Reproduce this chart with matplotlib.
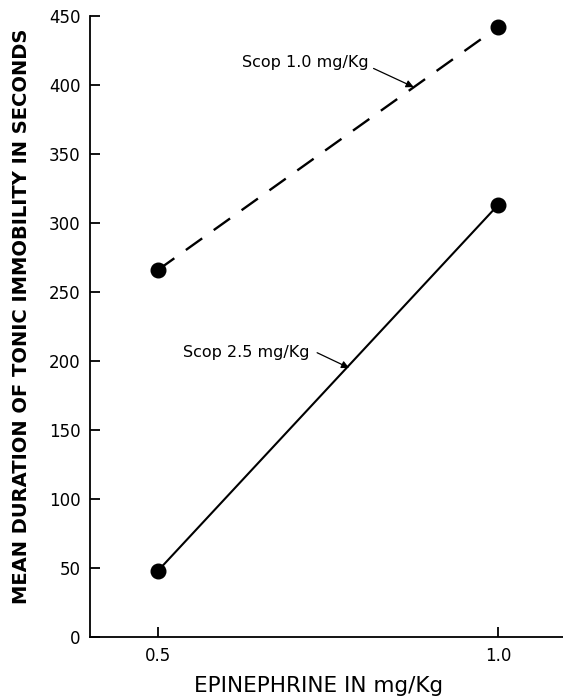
import matplotlib
matplotlib.use('Agg')
import matplotlib.pyplot as plt

# epinephrine doses (mg/Kg)
epi_dose = [0.5, 1.0]

# mean duration of tonic immobility (s)
scop_10 = [266, 442]
scop_25 = [48, 313]

x_ticks = [0.5, 1.0]
x_ticklabels = ['0.5', '1.0']
y_ticks = [0, 50, 100, 150, 200, 250, 300, 350, 400, 450]

plt.rcParams['font.family'] = 'DejaVu Sans'

fig = plt.figure(figsize=(5.63, 6.97), dpi=100)
ax = fig.add_axes([90 / 563, 60 / 697, 476 / 563, 621 / 697])

ax.plot(epi_dose, scop_10, color='black', lw=1.7, dashes=(8.5, 6),
        marker='o', markersize=10.5, markerfacecolor='black',
        markeredgecolor='black', clip_on=False)
ax.plot(epi_dose, scop_25, color='black', lw=1.5,
        marker='o', markersize=10.5, markerfacecolor='black',
        markeredgecolor='black', clip_on=False)

# labels with arrows
ax.text(0.624, 416, 'Scop 1.0 mg/Kg', fontsize=11.5, ha='left', va='center')
ax.annotate('', xy=(0.876, 398.5), xytext=(0.817, 412),
            arrowprops=dict(arrowstyle='-|>', lw=0.9, color='black',
                            mutation_scale=11, shrinkA=0, shrinkB=0))
ax.text(0.537, 206.5, 'Scop 2.5 mg/Kg', fontsize=11.5, ha='left', va='center')
ax.annotate('', xy=(0.781, 195), xytext=(0.734, 206),
            arrowprops=dict(arrowstyle='-|>', lw=0.9, color='black',
                            mutation_scale=11, shrinkA=0, shrinkB=0))

ax.set_xlim(0.4, 1.1)
ax.set_ylim(0, 450)
ax.set_xticks(x_ticks)
ax.set_xticklabels(x_ticklabels)
ax.set_yticks(y_ticks)

ax.spines['top'].set_visible(False)
ax.spines['right'].set_visible(False)
ax.spines['left'].set_linewidth(1.3)
ax.spines['bottom'].set_linewidth(1.3)

ax.tick_params(axis='both', direction='in', length=7.5, width=1.3,
               labelsize=12, pad=7)

ax.set_xlabel('EPINEPHRINE IN mg/Kg', fontsize=15.5)
ax.xaxis.set_label_coords(0.481, -0.062)
ax.set_ylabel('MEAN DURATION OF TONIC IMMOBILITY IN SECONDS',
              fontsize=14, fontweight='bold')
ax.yaxis.set_label_coords(-0.124, 0.517)

plt.savefig('out.png', dpi=100)
